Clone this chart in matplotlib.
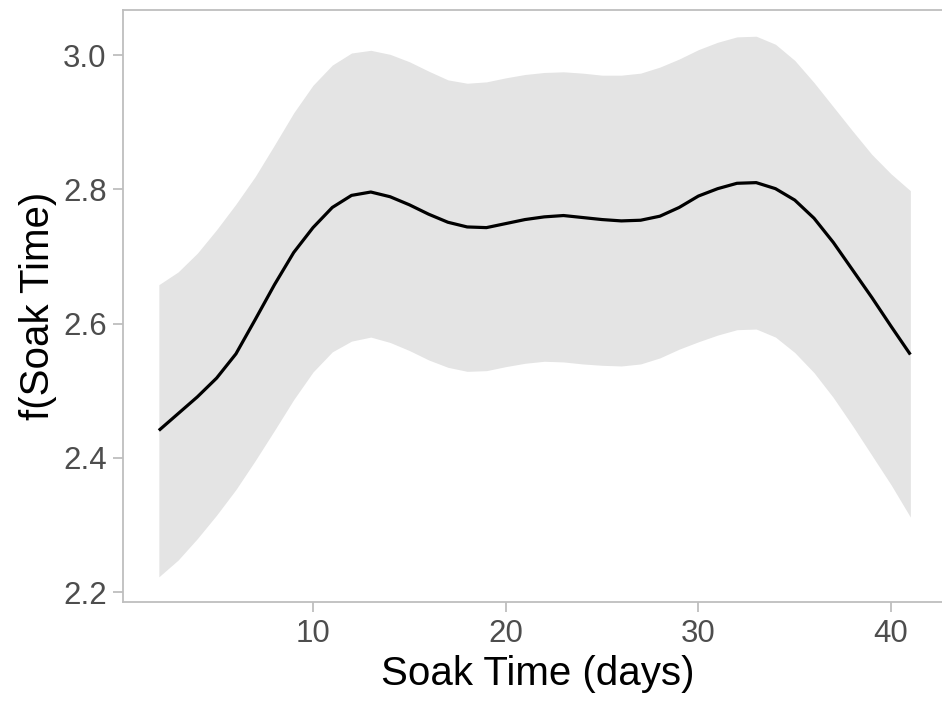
import matplotlib
matplotlib.use("Agg")
import matplotlib.pyplot as plt

plt.rcParams['font.family'] = ['Liberation Sans', 'DejaVu Sans']

soak_days = [2, 3, 4, 5, 6, 7, 8, 9, 10, 11, 12, 13, 14, 15, 16, 17, 18, 19, 20, 21,
             22, 23, 24, 25, 26, 27, 28, 29, 30, 31, 32, 33, 34, 35, 36, 37, 38, 39, 40, 41]
fit = [2.441, 2.466, 2.491, 2.519, 2.555, 2.606, 2.658, 2.706, 2.743, 2.773, 2.791, 2.796,
       2.789, 2.777, 2.763, 2.751, 2.744, 2.743, 2.749, 2.755, 2.759, 2.761, 2.758, 2.755,
       2.753, 2.754, 2.760, 2.773, 2.790, 2.801, 2.809, 2.810, 2.801, 2.784, 2.757, 2.721,
       2.680, 2.639, 2.596, 2.554]
upper = [2.658, 2.677, 2.705, 2.740, 2.778, 2.819, 2.866, 2.914, 2.955, 2.985, 3.003, 3.007,
         3.001, 2.990, 2.976, 2.963, 2.958, 2.960, 2.966, 2.971, 2.974, 2.975, 2.973, 2.970,
         2.970, 2.973, 2.982, 2.994, 3.008, 3.019, 3.027, 3.028, 3.016, 2.992, 2.959, 2.923,
         2.887, 2.852, 2.823, 2.798]
lower = [2.223, 2.248, 2.280, 2.315, 2.353, 2.396, 2.441, 2.487, 2.528, 2.558, 2.574, 2.580,
         2.572, 2.560, 2.546, 2.535, 2.529, 2.530, 2.536, 2.541, 2.544, 2.543, 2.540, 2.538,
         2.537, 2.540, 2.549, 2.562, 2.573, 2.583, 2.591, 2.592, 2.580, 2.557, 2.527, 2.490,
         2.448, 2.404, 2.360, 2.312]
x_ticks = [10, 20, 30, 40]
y_ticks = [2.2, 2.4, 2.6, 2.8, 3.0]
y_tick_labels = ["2.2", "2.4", "2.6", "2.8", "3.0"]

W, H = 942, 701
fig = plt.figure(figsize=(W / 100, H / 100), dpi=100)
left_px, right_px, top_px, bot_px = 123.3, 952, 10, 602.3
ax = fig.add_axes([left_px / W, (H - bot_px) / H, (right_px - left_px) / W, (bot_px - top_px) / H])

ax.fill_between(soak_days, lower, upper, color='#e4e4e4', linewidth=0, zorder=1)
ax.plot(soak_days, fit, color='black', linewidth=2.3, zorder=2,
        solid_capstyle='butt', solid_joinstyle='round')

# pixel mapping: x px = 120.3 + 19.27*x ; y px = 592.3 - 671.6*(y-2.2)
ax.set_xlim((left_px - 120.3) / 19.27, (right_px - 120.3) / 19.27)
ax.set_ylim(2.2 - (bot_px - 592.3) / 671.6, 2.2 + (592.3 - top_px) / 671.6)

ax.set_xticks(x_ticks)
ax.set_yticks(y_ticks)
ax.set_yticklabels(y_tick_labels)

spine_col = '#bebebe'
for s in ['left', 'bottom', 'top']:
    ax.spines[s].set_color(spine_col)
    ax.spines[s].set_linewidth(1.3)
ax.spines['right'].set_visible(False)

ax.tick_params(axis='both', colors=spine_col, length=7, width=1.3, direction='out',
               labelsize=22.5, labelcolor='#4d4d4d', pad=5)
ax.tick_params(axis='y', pad=5)

ax.set_xlabel('Soak Time (days)', fontsize=29, color='black', labelpad=4)
ax.set_ylabel('f(Soak Time)', fontsize=29, color='black', labelpad=4)
ax.set_facecolor('white')

fig.savefig('out.png', dpi=100)
